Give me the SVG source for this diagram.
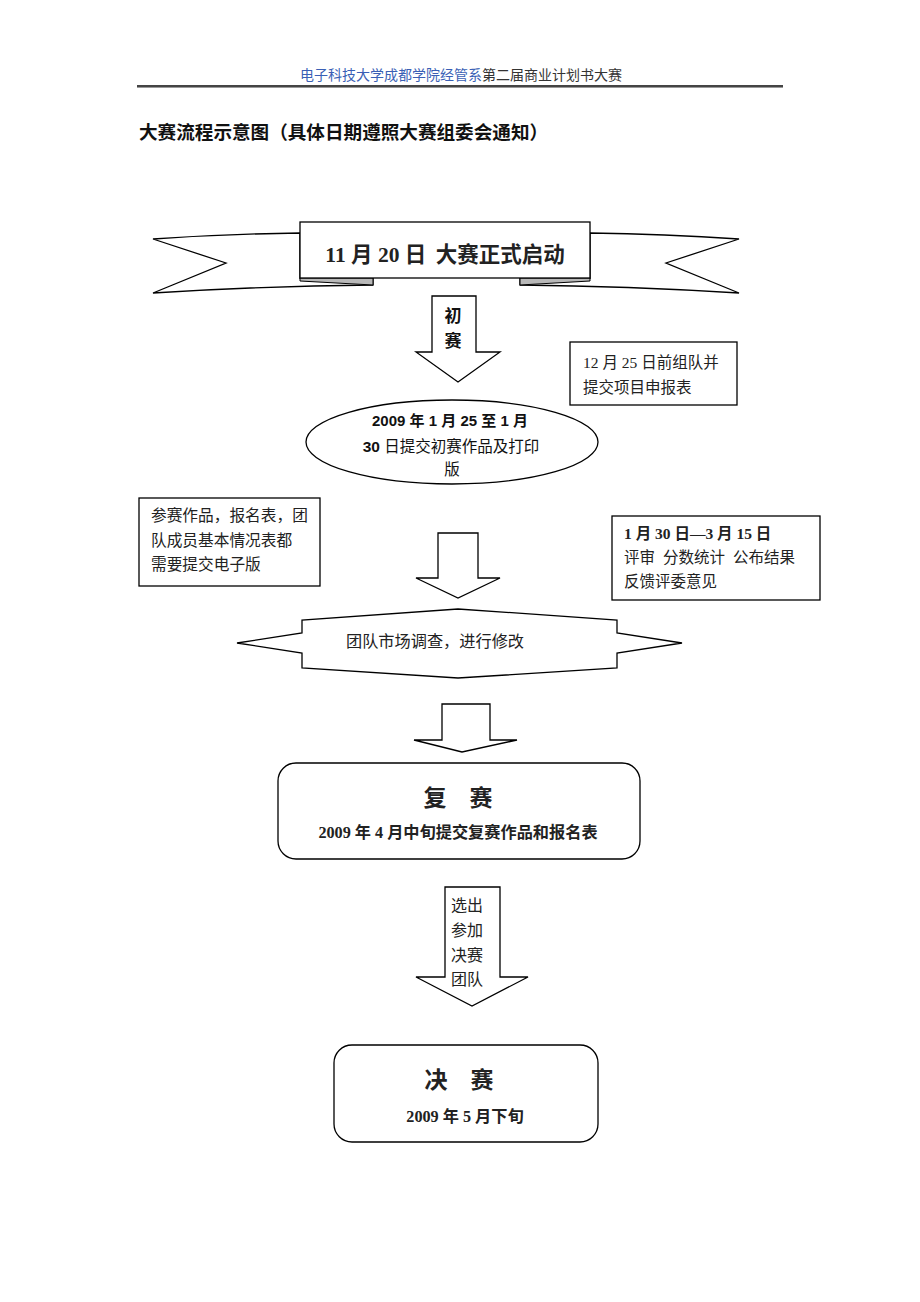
<svg xmlns="http://www.w3.org/2000/svg" width="920" height="1302" viewBox="0 0 920 1302">
<style>
.sh{fill:#fff;stroke:#000;stroke-width:1.3}
.t{font-family:"Liberation Serif","Noto Sans CJK SC",serif;fill:#222}
.b{font-weight:bold}
.s{font-family:"Liberation Sans","Noto Sans CJK SC",sans-serif;fill:#111}
.fold{fill:#b8b8b8;stroke:#000;stroke-width:1}
</style>
<rect x="0" y="0" width="920" height="1302" fill="#fff"/>
<g id="header">
<text class="t" x="461" y="80" font-size="14" text-anchor="middle"><tspan fill="#3a5fb5">电子科技大学成都学院经管系</tspan><tspan fill="#333">第二届商业计划书大赛</tspan></text>
<rect x="137" y="85" width="646" height="2" fill="#444"/>
<line x1="137" y1="87.5" x2="783" y2="87.5" stroke="#999" stroke-width="1"/>
</g>
<g id="title">
<text class="s b" x="139" y="139" font-size="18.6" font-weight="bold">大赛流程示意图（具体日期遵照大赛组委会通知）</text>
</g>
<g id="node-start">
<path class="sh" d="M300,233 Q226,234 153,239 L226,263 L153,293 Q263,286 373,285 L373,278 L300,278 Z"/>
<path class="sh" d="M590,233 Q664,234 739,239 L666,263 L739,293 Q627,286 520,285 L520,278 L590,278 Z"/>
<polygon class="fold" points="300,278 373,278 373,285 300,281"/>
<polygon class="fold" points="520,278 590,278 590,281 520,285"/>
<rect class="sh" x="300" y="222" width="290" height="56"/>
<text class="t b" x="445" y="262" font-size="21.5" text-anchor="middle" font-weight="bold">11 月 20 日 <tspan dx="4">大赛正式启动</tspan></text>
</g>
<g id="connectors">
<g id="arrow-1">
<polygon class="sh" points="432,296 476,296 476,352 500,352 458,382 416,352 432,352"/>
<text class="s b" x="453" y="322" font-size="17" text-anchor="middle" font-weight="bold">初</text>
<text class="s b" x="453" y="347" font-size="17" text-anchor="middle" font-weight="bold">赛</text>
</g>
<g id="arrow-2">
<polygon class="sh" points="438,533 478,533 478,578 500,578 458,598 416,578 438,578"/>
</g>
<g id="arrow-3">
<polygon class="sh" points="442,704 490,704 490,740 517,740 462,752 414,740 442,740"/>
</g>
<g id="arrow-4">
<polygon class="sh" points="445,887 500,887 500,977 528,977 472,1006 416,977 445,977"/>
<text class="t" x="451" y="911" font-size="16">选出</text>
<text class="t" x="451" y="936" font-size="16">参加</text>
<text class="t" x="451" y="961" font-size="16">决赛</text>
<text class="t" x="451" y="985" font-size="16">团队</text>
</g>
</g>
<g id="node-team">
<rect class="sh" x="570" y="342" width="167" height="63"/>
<text class="t" x="583" y="368" font-size="15.5">12 月 25 日前组队并</text>
<text class="t" x="583" y="393" font-size="15.5">提交项目申报表</text>
</g>
<g id="node-submit">
<ellipse class="sh" cx="452" cy="442" rx="146" ry="42"/>
<text class="s b" x="450" y="426" font-size="15" text-anchor="middle" font-weight="bold">2009 年 1 月 25 至 1 月</text>
<text class="s" x="451" y="452" font-size="15.5" text-anchor="middle"><tspan font-weight="bold">30</tspan> 日提交初赛作品及打印</text>
<text class="s" x="452" y="475" font-size="15.5" text-anchor="middle">版</text>
</g>
<g id="node-note-left">
<rect class="sh" x="139" y="498" width="181" height="88"/>
<text class="t" x="151" y="521" font-size="15.7">参赛作品，报名表，团</text>
<text class="t" x="151" y="546" font-size="15.7">队成员基本情况表都</text>
<text class="t" x="151" y="570" font-size="15.7">需要提交电子版</text>
</g>
<g id="node-review">
<rect class="sh" x="612" y="516" width="208" height="84"/>
<text class="t b" x="624" y="539" font-size="15.5" font-weight="bold">1 月 30 日—3 月 15 日</text>
<text class="t" x="624" y="563" font-size="15.5">评审<tspan dx="8">分数统计</tspan><tspan dx="8">公布结果</tspan></text>
<text class="t" x="624" y="587" font-size="15.5">反馈评委意见</text>
</g>
<g id="node-research">
<polygon class="sh" points="237,643 302,633 302,620 458,609 617,620 617,633 682,643 617,653 617,668 458,678 302,668 302,653"/>
<text class="t" x="346" y="647" font-size="16.2">团队市场调查，进行修改</text>
</g>
<g id="node-semifinal">
<rect class="sh" x="278" y="763" width="362" height="96" rx="18" ry="18"/>
<text class="t b" x="458" y="806" font-size="23" text-anchor="middle" font-weight="bold">复　赛</text>
<text class="t b" x="458" y="838" font-size="16.2" text-anchor="middle" font-weight="bold">2009 年 4 月中旬提交复赛作品和报名表</text>
</g>
<g id="node-final">
<rect class="sh" x="334" y="1045" width="264" height="97" rx="18" ry="18"/>
<text class="t b" x="459" y="1088" font-size="23" text-anchor="middle" font-weight="bold">决　赛</text>
<text class="t b" x="465" y="1122" font-size="16.2" text-anchor="middle" font-weight="bold">2009 年 5 月下旬</text>
</g>
</svg>
